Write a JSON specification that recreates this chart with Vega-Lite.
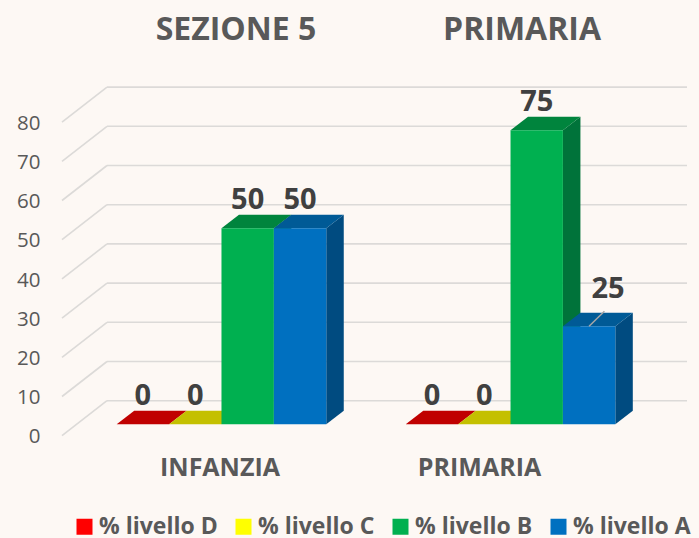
{
"$schema":"https://vega.github.io/schema/vega-lite/v6.json",
"width":699,"height":538,"autosize":{"type":"none"},"padding":0,
"background":"#fdf8f4",
"config":{"view":{"stroke":null},"font":"Open Sans"},
"datasets":{
"bars":[
{"group":"INFANZIA","level":"% livello D","v":0},
{"group":"INFANZIA","level":"% livello C","v":0},
{"group":"INFANZIA","level":"% livello B","v":50},
{"group":"INFANZIA","level":"% livello A","v":50},
{"group":"PRIMARIA","level":"% livello D","v":0},
{"group":"PRIMARIA","level":"% livello C","v":0},
{"group":"PRIMARIA","level":"% livello B","v":75},
{"group":"PRIMARIA","level":"% livello A","v":25}],
"grid":[{"v":0},{"v":10},{"v":20},{"v":30},{"v":40},{"v":50},{"v":60},{"v":70},{"v":80}],
"heads":[{"group":"INFANZIA","heading":"SEZIONE 5"},{"group":"PRIMARIA","heading":"PRIMARIA"}]
},
"layer":[
{"data":{"name":"grid"},
 "mark":{"type":"rule","color":"#dcdad8","strokeWidth":1.6,"yOffset":-23.6},
 "encoding":{"x":{"value":107},"x2":{"value":687},
  "y":{"field":"v","type":"quantitative","scale":{"domain":[0,80],"range":[424.3,110.7],"nice":false,"zero":false},
   "axis":{"orient":"left","offset":-40,"title":null,"values":[0,10,20,30,40,50,60,70,80],"domain":false,"ticks":false,"grid":false,"labelPadding":0,"labelOffset":12.5,"labelFontSize":20.5,"labelColor":"#595959","labelFont":"Open Sans"}}}},
{"data":{"name":"grid"},
 "mark":{"type":"rule","color":"#dcdad8","strokeWidth":1.6,"yOffset":11.4,"y2Offset":-23.6},
 "encoding":{"x":{"value":62},"x2":{"value":107},"y":{"field":"v","type":"quantitative"},"y2":{"field":"v"}}},
{"data":{"name":"bars"},
 "mark":{"type":"point","filled":true,"opacity":1,"size":4,
  "shape":{"expr":"'M26.2 0L43.7 -13.5L43.7 ' + (3.92*datum.v-13.5) + 'L26.2 ' + (3.92*datum.v) + 'Z'"},
  "fill":{"expr":"{'% livello D':'#c00000','% livello C':'#c4c000','% livello B':'#00733a','% livello A':'#004b80'}[datum.level]"}},
 "encoding":{"x":{"field":"group","type":"nominal","axis":null},"xOffset":{"field":"level","type":"nominal"},"y":{"field":"v","type":"quantitative"}}},
{"data":{"name":"bars"},
 "mark":{"type":"point","filled":true,"opacity":1,"size":4,
  "shape":"M-26.2 0L-8.7 -13.5L43.7 -13.5L26.2 0Z",
  "fill":{"expr":"{'% livello D':'#c00000','% livello C':'#c4c000','% livello B':'#00843d','% livello A':'#005a96'}[datum.level]"}},
 "encoding":{"x":{"field":"group","type":"nominal","axis":null},"xOffset":{"field":"level","type":"nominal"},"y":{"field":"v","type":"quantitative"}}},
{"data":{"name":"bars"},
 "mark":{"type":"bar"},
 "encoding":{
  "x":{"field":"group","type":"nominal","scale":{"domain":["INFANZIA","PRIMARIA"],"range":[116.7,615.3],"paddingInner":0.275,"paddingOuter":0},"axis":null},
  "xOffset":{"field":"level","type":"nominal","scale":{"domain":["% livello D","% livello C","% livello B","% livello A"],"paddingInner":0,"paddingOuter":0}},
  "y":{"field":"v","type":"quantitative"},
  "color":{"field":"level","type":"nominal","scale":{"domain":["% livello D","% livello C","% livello B","% livello A"],"range":["#ff0000","#ffff00","#00b050","#0070c0"]},
   "legend":{"orient":"none","legendX":73,"legendY":515,"direction":"horizontal","columns":4,"title":null,"symbolType":"square","symbolSize":256,"symbolStrokeWidth":0,"symbolOpacity":1,"labelFontSize":23,"labelFontWeight":"bold","labelColor":"#595959","labelFont":"Open Sans","labelOffset":3,"columnPadding":14,"labelLimit":200}}}},
{"data":{"name":"bars"},
 "transform":[{"filter":"datum.group==='PRIMARIA' && datum.level==='% livello A'"}],
 "mark":{"type":"point","filled":false,"opacity":1,"size":4,"shape":"M0 0L15.3 -15","stroke":"#a6a6a6","strokeWidth":1.5},
 "encoding":{"x":{"field":"group","type":"nominal","axis":null},"xOffset":{"field":"level","type":"nominal"},"y":{"field":"v","type":"quantitative"}}},
{"data":{"name":"bars"},
 "mark":{"type":"text","font":"Open Sans","fontSize":29,"fontWeight":"bold","color":"#404040","baseline":"middle",
  "dx":{"expr":"datum.v===25?19:0"},"yOffset":{"expr":"datum.v===25?-37.7:-28.5"}},
 "encoding":{"x":{"field":"group","type":"nominal","axis":null},"xOffset":{"field":"level","type":"nominal"},"y":{"field":"v","type":"quantitative"},"text":{"field":"v","type":"quantitative"}}},
{"data":{"name":"heads"},
 "mark":{"type":"text","font":"Open Sans","fontSize":32,"fontWeight":"bold","color":"#595959","baseline":"middle","dx":{"expr":"datum.group==='PRIMARIA'?11.5:14.5"}},
 "encoding":{"x":{"field":"group","type":"nominal","axis":null},"y":{"value":30},"text":{"field":"heading"}}},
{"data":{"name":"heads"},
 "mark":{"type":"text","font":"Open Sans","fontSize":25,"fontWeight":"bold","color":"#595959","baseline":"middle","dx":{"expr":"datum.group==='PRIMARIA'?-31:-1.5"}},
 "encoding":{"x":{"field":"group","type":"nominal","axis":null},"y":{"value":468},"text":{"field":"group"}}}
]
}
